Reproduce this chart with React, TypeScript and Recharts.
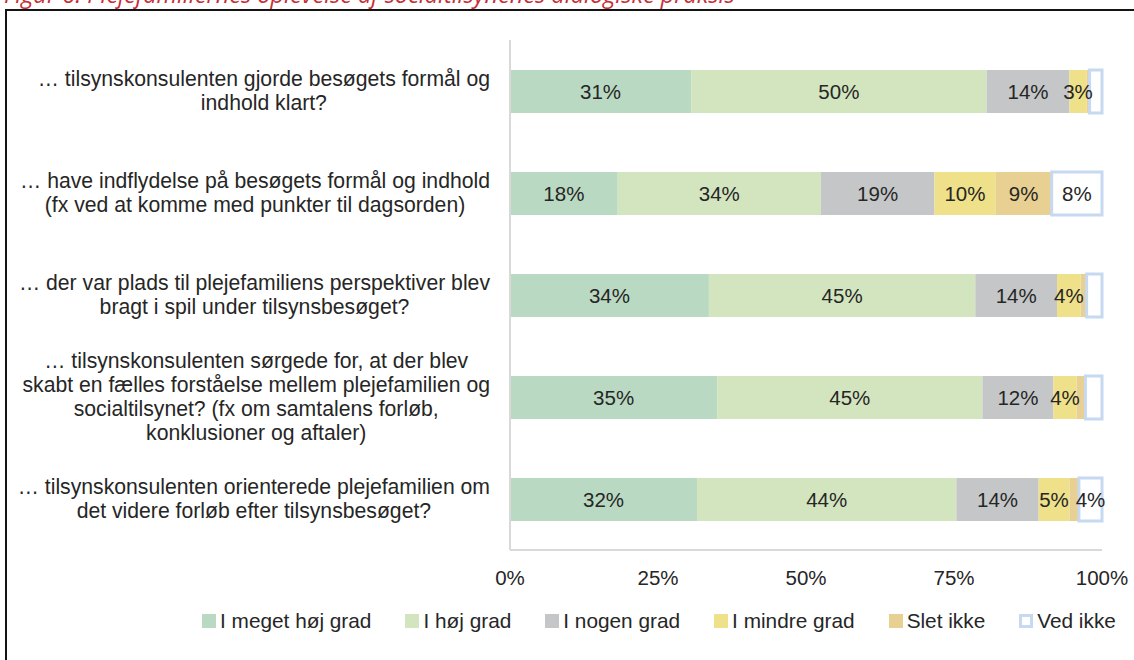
import { BarChart, Bar, XAxis, YAxis, LabelList } from 'recharts'

const QUESTIONS = [
  '… tilsynskonsulenten gjorde besøgets formål og\nindhold klart?',
  '… have indflydelse på besøgets formål og indhold\n(fx ved at komme med punkter til dagsorden)',
  '… der var plads til plejefamiliens perspektiver blev\nbragt i spil under tilsynsbesøget?',
  '… tilsynskonsulenten sørgede for, at der blev\nskabt en fælles forståelse mellem plejefamilien og\nsocialtilsynet? (fx om samtalens forløb,\nkonklusioner og aftaler)',
  '… tilsynskonsulenten orienterede plejefamilien om\ndet videre forløb efter tilsynsbesøget?',
]

const SERIES = ['I meget høj grad', 'I høj grad', 'I nogen grad', 'I mindre grad', 'Slet ikke', 'Ved ikke']
const COLORS = ['#BAD9C2', '#D3E5BF', '#C5C6C8', '#EEE189', '#E7D092', '#FFFFFF']

// andele i procent pr. spørgsmål
const megetHoej = [30.6, 18.2, 33.6, 35.0, 31.6]
const hoej = [49.9, 34.3, 45.0, 44.8, 43.8]
const nogen = [14.0, 19.2, 13.8, 12.0, 13.9]
const mindre = [2.9, 10.3, 4.0, 3.9, 5.2]
const sletIkke = [0.5, 9.5, 1.0, 1.5, 1.6]
const vedIkke = [2.1, 8.5, 2.6, 2.8, 3.9]

// datalabels som de står i figuren (små andele er uden label)
const megetHoejLab = ['31%', '18%', '34%', '35%', '32%']
const hoejLab = ['50%', '34%', '45%', '45%', '44%']
const nogenLab = ['14%', '19%', '14%', '12%', '14%']
const mindreLab = ['3%', '10%', '4%', '4%', '5%']
const sletIkkeLab = ['', '9%', '', '', '']
const vedIkkeLab = ['', '8%', '', '', '4%']

const X_TICKS = [0, 25, 50, 75, 100]

const VALUES = [megetHoej, hoej, nogen, mindre, sletIkke, vedIkke]
const LABELS = [megetHoejLab, hoejLab, nogenLab, mindreLab, sletIkkeLab, vedIkkeLab]

const data = QUESTIONS.map((q, i) => {
  const row: Record<string, string | number> = { q }
  VALUES.forEach((vals, s) => {
    row[`v${s}`] = vals[i]
    row[`l${s}`] = LABELS[s][i]
  })
  return row
})

const FONT = '"Liberation Sans", Arial, sans-serif'
const FS = 20.5
const Q_FS = 21.2
const TEXT = '#262626'

let ctx: CanvasRenderingContext2D | null = null
function textWidth(s: string) {
  if (!ctx) ctx = document.createElement('canvas').getContext('2d')
  if (!ctx) return s.length * Q_FS * 0.5
  ctx.font = `${Q_FS}px "Liberation Sans"`
  return ctx.measureText(s).width
}

function QuestionTick({ x, y, payload }: any) {
  const lines: string[] = String(payload.value).split('\n')
  const w = Math.max(...lines.map(textWidth))
  const cx = x - w / 2
  const lh = 24
  return (
    <text x={cx} y={y} textAnchor="middle" fill={TEXT} fontSize={Q_FS} fontFamily={FONT}>
      {lines.map((l, i) => (
        <tspan key={i} x={cx} y={y + (i - (lines.length - 1) / 2) * lh} dy="0.35em">
          {l}
        </tspan>
      ))}
    </text>
  )
}

function ChartLegend() {
  return (
    <div
      style={{
        position: 'absolute',
        left: 202,
        top: 608,
        display: 'flex',
        gap: 34,
        fontFamily: FONT,
        fontSize: 20.8,
        color: TEXT,
        lineHeight: '26px',
        whiteSpace: 'nowrap',
      }}
    >
      {SERIES.map((s, i) => (
        <div key={s} style={{ display: 'flex', alignItems: 'center' }}>
          <span
            style={{
              width: 14,
              height: 14,
              marginRight: 4,
              boxSizing: 'border-box',
              background: COLORS[i],
              border: i === 5 ? '3px solid #C6D9F1' : 'none',
            }}
          />
          {s}
        </div>
      ))}
    </div>
  )
}

export default function App() {
  return (
    <div
      style={{
        position: 'absolute',
        left: 0,
        top: 0,
        width: 1134,
        height: 660,
        overflow: 'hidden',
        background: '#fff',
        fontFamily: FONT,
      }}
    >
      <div
        style={{
          position: 'absolute',
          left: 4,
          top: -22,
          color: '#C62F38',
          fontStyle: 'italic',
          fontSize: 23.5,
          lineHeight: '32px',
          fontFamily: '"Open Sans", sans-serif',
          whiteSpace: 'nowrap',
        }}
      >
        Figur 6: Plejefamiliernes oplevelse af socialtilsynenes dialogiske praksis
      </div>
      <div
        style={{
          position: 'absolute',
          left: 5,
          top: 9,
          width: 1160,
          height: 700,
          border: '2.5px solid #141414',
        }}
      />
      <div style={{ position: 'absolute', left: 0, top: 0 }}>
        <BarChart
          width={1134}
          height={660}
          data={data}
          layout="vertical"
          margin={{ top: 40, right: 32, bottom: 80, left: 0 }}
          barSize={43}
        >
          <XAxis
            type="number"
            domain={[0, 100]}
            ticks={X_TICKS}
            tickFormatter={(v: number) => `${v}%`}
            axisLine={{ stroke: '#D9D9D9', strokeWidth: 2 }}
            tickLine={false}
            tickSize={0}
            tickMargin={20}
            height={30}
            interval={0}
            tick={{ fill: TEXT, fontSize: FS, fontFamily: FONT }}
          />
          <YAxis
            type="category"
            dataKey="q"
            width={510}
            axisLine={{ stroke: '#D9D9D9', strokeWidth: 2 }}
            tickLine={false}
            tickSize={0}
            tickMargin={20}
            interval={0}
            tick={<QuestionTick />}
          />
          {SERIES.map((s, i) => (
            <Bar
              key={s}
              dataKey={`v${i}`}
              name={s}
              stackId="a"
              fill={COLORS[i]}
              stroke={i === 5 ? '#C6D9F1' : 'none'}
              strokeWidth={i === 5 ? 3 : 0}
              isAnimationActive={false}
            >
              <LabelList
                dataKey={`l${i}`}
                position="center"
                fill={TEXT}
                stroke="none"
                fontSize={FS}
                fontFamily={FONT}
              />
            </Bar>
          ))}
        </BarChart>
      </div>
      <ChartLegend />
    </div>
  )
}
